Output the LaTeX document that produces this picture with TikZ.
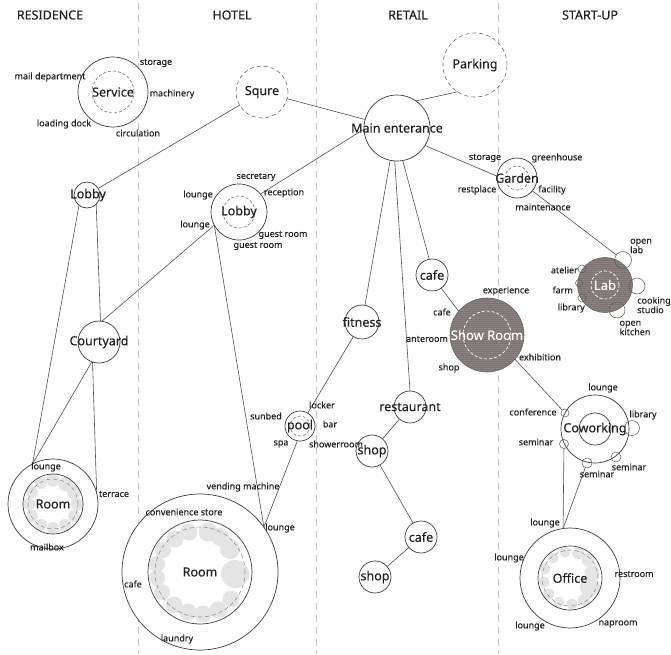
\documentclass[tikz,border=0pt]{standalone}
\usepackage{fontspec}
\setmainfont{Noto Sans}
\newfontfamily\nfont[FakeBold=0.35]{Noto Sans}
\usetikzlibrary{calc}
\definecolor{ink}{HTML}{3C3C3C}
\definecolor{txt}{HTML}{222222}
\definecolor{divc}{HTML}{C8C8C8}
\definecolor{blob}{HTML}{E4E4E4}
\definecolor{darkfill}{HTML}{7D7373}
\begin{document}
\begin{tikzpicture}[x=1pt,y=-1pt,
 ln/.style={draw=ink!90,line width=0.6pt},
 cir/.style={circle,draw=ink,line width=0.7pt,fill=white,inner sep=0pt,outer sep=0pt},
 ring/.style={circle,draw=ink,line width=0.7pt,inner sep=0pt,outer sep=0pt},
 dring/.style={circle,draw=ink!70,dash pattern=on 3pt off 2pt,line width=0.6pt,inner sep=0pt,outer sep=0pt},
 gring/.style={circle,draw=ink!55,dash pattern=on 4pt off 3pt,line width=0.6pt,inner sep=0pt,outer sep=0pt},
 wdring/.style={circle,draw=white,dash pattern=on 3pt off 2pt,line width=0.7pt,inner sep=0pt,outer sep=0pt},
 dkcir/.style={circle,draw=ink!80,fill=darkfill,line width=0.6pt,inner sep=0pt,outer sep=0pt},
 sat/.style={circle,draw=ink!85,line width=0.5pt,inner sep=0pt,outer sep=0pt},
 nt/.style={font=\nfont\fontsize{12.5}{14}\selectfont,text=txt,inner sep=0pt},
 wt/.style={font=\nfont\fontsize{13}{14}\selectfont,text=white,inner sep=0pt},
 lb/.style={font=\nfont\fontsize{9}{10}\selectfont,text=txt,inner sep=0pt},
 lb2/.style={font=\nfont\fontsize{9}{9.5}\selectfont,text=txt,inner sep=0pt,align=left},
 hd/.style={font=\nfont\fontsize{12.5}{14}\selectfont,text=txt,inner sep=0pt},
 dv/.style={draw=divc,line width=0.9pt,dash pattern=on 7pt off 5pt},
 bl/.style={fill=blob}]
\useasboundingbox (0,0) rectangle (671,654);
\fill[white] (0,0) rectangle (671,654);
% dividers
\draw[dv] (138,3) -- (138,654);
\draw[dv] (316,3) -- (316,654);
\draw[dv] (498,3) -- (498,654);
% headers
\node[hd] (hRes) at (50,15) {RESIDENCE};
\node[hd] (hHot) at (232,15) {HOTEL};
\node[hd] (hRet) at (408,15) {RETAIL};
\node[hd] (hSta) at (590,15) {START-UP};

% ---------- circles ----------
\node[cir,minimum size=70pt] (service) at (113,92) {};
\node[dring,minimum size=42pt] (serviceD) at (113,92) {};
\node[nt] (serviceT) at (113,92) {Service};

\node[gring,draw=ink!75,fill=white,minimum size=52pt] (squre) at (262,92) {};
\node[nt] (squreT) at (262,92) {Squre};

\node[gring,draw=ink!75,fill=white,minimum size=64pt] (parking) at (475,65) {};
\node[nt] (parkingT) at (475,65) {Parking};

\node[cir,minimum size=66pt] (main) at (397,128) {};
\node[nt] (mainT) at (397,128) {Main enterance};

\node[cir,minimum size=26pt] (lobbyR) at (87,195) {};
\node[nt] (lobbyRT) at (88,195) {Lobby};

\node[cir,minimum size=56pt] (lobbyH) at (239,212) {};
\node[dring,minimum size=32pt] (lobbyHD) at (239,212) {};
\node[nt] (lobbyHT) at (239,212) {Lobby};

\node[cir,minimum size=42pt] (court) at (99,342) {};
\node[nt] (courtT) at (99,342) {Courtyard};

% residence room
\node[cir,minimum size=90pt] (roomR) at (53,504) {};
\begin{scope}
\clip (53,504) circle[radius=30pt];
\foreach \dx/\dy/\rr in {24/0/6.5, 21/-12/7, 13/-20/7.5, 0/-24/6.5, -12/-21/6, -21/-12/6, -24/0/6, -21/12/6, -12/21/6, 0/24/6, 12/21/6, 21/12/6}
  \fill[bl] ($(53,504)+(\dx,\dy)$) circle[radius=\rr pt];
\end{scope}
\node[ring,minimum size=60pt] (roomRi) at (53,504) {};
\node[gring,minimum size=50pt] (roomRd) at (53,504) {};
\node[nt] (roomRT) at (53,504) {Room};

% hotel room
\node[cir,minimum size=156pt] (roomH) at (200,572) {};
\begin{scope}
\clip (200,572) circle[radius=52pt];
\foreach \dx/\dy/\rr in {35/2/14, 30/-23/10, 20/-35/9, 8/-40/9.5, -11/-40/8.5, -25/-33/8.5, -37/-22/8, -43/-8/8, -43/6/8, -38/20/8, -26/33/8.5, -12/40/8.5, 3/42/8.5, 18/38/8.5, 31/27/8.5}
  \fill[bl] ($(200,572)+(\dx,\dy)$) circle[radius=\rr pt];
\end{scope}
\node[ring,minimum size=104pt] (roomHi) at (200,572) {};
\node[gring,minimum size=90pt] (roomHd) at (200,572) {};
\node[nt] (roomHT) at (200,572) {Room};

% pool
\node[cir,minimum size=30pt] (pool) at (300,426) {};
\node[dring,minimum size=20pt] (poolD) at (300,426) {};
\node[nt] (poolT) at (300,426) {pool};

% retail
\node[cir,minimum size=34pt] (fitness) at (362,322) {};
\node[nt] (fitnessT) at (362,322) {fitness};
\node[cir,minimum size=32pt] (cafeA) at (432,275) {};
\node[nt] (cafeAT) at (432,275) {cafe};
\node[dkcir,minimum size=74pt] (show) at (487,335) {};
\begin{scope}
\clip (487,335) circle[radius=36.6pt];
\foreach \yy in {300,302,...,372} \draw[white,opacity=0.10,line width=0.5pt] (448,\yy) -- (526,\yy);
\end{scope}
\node[wdring,minimum size=48pt] (showD) at (487,335) {};
\node[wt] (showT) at (487,335) {Show Room};
\node[cir,minimum size=32pt] (rest) at (410,407) {};
\node[nt] (restT) at (410,407) {restaurant};
\node[cir,minimum size=32pt] (shopA) at (372,451) {};
\node[nt] (shopAT) at (372,451) {shop};
\node[cir,minimum size=32pt] (cafeB) at (421,537) {};
\node[nt] (cafeBT) at (421,537) {cafe};
\node[cir,minimum size=32pt] (shopB) at (375,577) {};
\node[nt] (shopBT) at (375,577) {shop};

% start-up
\node[cir,minimum size=40pt] (garden) at (517,178) {};
\node[dring,minimum size=24pt] (gardenD) at (517,178) {};
\node[nt] (gardenT) at (517,178) {Garden};

\node[dkcir,minimum size=55pt] (lab) at (605,285) {};
\begin{scope}
\clip (605,285) circle[radius=27pt];
\foreach \yy in {259,261,...,311} \draw[white,opacity=0.10,line width=0.5pt] (577,\yy) -- (633,\yy);
\end{scope}
\node[wdring,minimum size=28pt] (labD) at (605,285) {};
\node[wt] (labT) at (605,285) {Lab};
\node[sat,minimum size=17pt] (openlab) at (623,260) {};
\node[sat,minimum size=8pt] (atelier) at (582,269) {};
\node[sat,minimum size=7pt] (farm) at (579,283) {};
\node[sat,minimum size=8pt] (libraryL) at (582,298) {};
\node[sat,minimum size=16pt] (cooking) at (637,286) {};
\node[sat,minimum size=16pt] (kitchen) at (617,310) {};

\node[cir,minimum size=68pt] (cowork) at (595,429) {};
\node[ring,minimum size=32pt] (coworkI) at (595,429) {};
\node[nt] (coworkT) at (595,429) {Coworking};
\node[sat,minimum size=8pt] (conf) at (565,413) {};
\node[sat,minimum size=15pt] (libC) at (632,428) {};
\node[sat,minimum size=9pt] (semL) at (564,444) {};
\node[sat,minimum size=10pt] (semB) at (587,463) {};
\node[sat,minimum size=10pt] (semR) at (616,457) {};

\node[cir,minimum size=100pt] (office) at (570,578) {};
\begin{scope}
\clip (570,578) circle[radius=32pt];
\foreach \dx/\dy/\rr in {20/9/10, 22/-5/7.5, 18/-18/6.5, 8/-25/6, -5/-26/5.5, -17/-20/5.5, -25/-9/5.5, -26/4/5.5, -21/16/5.5, -11/24/5.5, 2/26/5.5, 14/22/6}
  \fill[bl] ($(570,578)+(\dx,\dy)$) circle[radius=\rr pt];
\end{scope}
\node[ring,minimum size=64pt] (officeI) at (570,578) {};
\node[gring,minimum size=56pt] (officeD) at (570,578) {};
\node[nt] (officeT) at (570,578) {Office};

% ---------- connectors ----------
\coordinate (hLounge) at (lobbyH.208);
\coordinate (hrLounge) at (roomH.35);
\coordinate (rLounge) at (roomR.117);
\coordinate (rTerrace) at (roomR.14);
\coordinate (offTop) at (office.98);

\draw[ln] (squre) -- (main);
\draw[ln] (parking.237) -- (main.55);
\draw[ln] (squre) -- (lobbyR);
\draw[ln] (main.182) -- (lobbyH.40);
\draw[ln] (main.-32) -- (garden.175);
\draw[ln] (garden.-40) -- (openlab);
\draw[ln] (main.-102) -- (fitness.80);
\draw[ln] (main.-94) -- (rest.90);
\draw[ln] (main.-80) -- (cafeA.100);
\draw[ln] (cafeA.-55) -- (show.140);
\draw[ln] (show.-41) -- (conf);
\draw[ln] (fitness) -- (pool);
\draw[ln] (pool.-100) -- (hrLounge);
\draw[ln] (hLounge) -- (hrLounge);
\draw[ln] (court.82) -- (hLounge);
\draw[ln] (lobbyR.-45) -- (court.86);
\draw[ln] (lobbyR.-128) -- (rLounge);
\draw[ln] (court.-110) -- (rLounge);
\draw[ln] (court.-108) -- (rTerrace);
\draw[ln] (rest) -- (shopA);
\draw[ln] (shopA) -- (cafeB);
\draw[ln] (cafeB) -- (shopB);
\draw[ln] (semL) -- (offTop);
\draw[ln] (semB) -- (offTop);

% ---------- labels ----------
% service
\node[lb] (l1) at (156,63) {storage};
\node[lb] (l2) at (50,77) {mail department};
\node[lb] (l3) at (172,94) {machinery};
\node[lb] (l4) at (64,124) {loading dock};
\node[lb] (l5) at (138,133) {circulation};
% hotel lobby
\node[lb] (l6) at (256,177) {secretary};
\node[lb] (l7) at (284,193) {reception};
\node[lb] (l8) at (198,195) {lounge};
\node[lb] (l9) at (195,225) {lounge};
\node[lb] (l10) at (283,235) {guest room};
\node[lb] (l11) at (258,246) {guest room};
% residence room
\node[lb] (l12) at (46,467) {lounge};
\node[lb] (l13) at (114,494) {terrace};
\node[lb] (l14) at (47,547) {mailbox};
% hotel room
\node[lb] (l15) at (243,487) {vending machine};
\node[lb] (l16) at (184,512) {convenience store};
\node[lb] (l17) at (280,528) {lounge};
\node[lb] (l18) at (133,584) {cafe};
\node[lb] (l19) at (177,639) {laundry};
% pool
\node[lb] (l20) at (322,405) {locker};
\node[lb] (l21) at (266,416) {sunbed};
\node[lb] (l22) at (330,424) {bar};
\node[lb] (l23) at (281,444) {spa};
\node[lb] (l24) at (336,444) {showerroom};
% show room
\node[lb] (l25) at (506,291) {experience};
\node[lb] (l26) at (442,312) {cafe};
\node[lb] (l27) at (427,339) {anteroom};
\node[lb] (l28) at (449,368) {shop};
\node[lb] (l29) at (540,357) {exhibition};
% garden
\node[lb] (l30) at (485,158) {storage};
\node[lb] (l31) at (557,158) {greenhouse};
\node[lb] (l32) at (477,190) {restplace};
\node[lb] (l33) at (552,190) {facility};
\node[lb] (l34) at (543,207) {maintenance};
% lab
\node[lb2] (l35) at (641,246) {open\\lab};
\node[lb,anchor=east] (l36) at (578,270) {atelier};
\node[lb,anchor=east] (l37) at (573,290) {farm};
\node[lb,anchor=east] (l38) at (585,308) {library};
\node[lb2] (l39) at (654,305) {cooking\\studio};
\node[lb2] (l40) at (635,328) {open\\kitchen};
% coworking
\node[lb] (l41) at (603,388) {lounge};
\node[lb] (l42) at (533,412) {conference};
\node[lb] (l43) at (643,415) {library};
\node[lb] (l44) at (536,442) {seminar};
\node[lb] (l45) at (629,467) {seminar};
\node[lb] (l46) at (597,474) {seminar};
% office
\node[lb] (l47) at (545,523) {lounge};
\node[lb] (l48) at (509,558) {lounge};
\node[lb] (l49) at (634,574) {restroom};
\node[lb] (l50) at (530,626) {lounge};
\node[lb] (l51) at (618,624) {naproom};
\end{tikzpicture}
\end{document}
